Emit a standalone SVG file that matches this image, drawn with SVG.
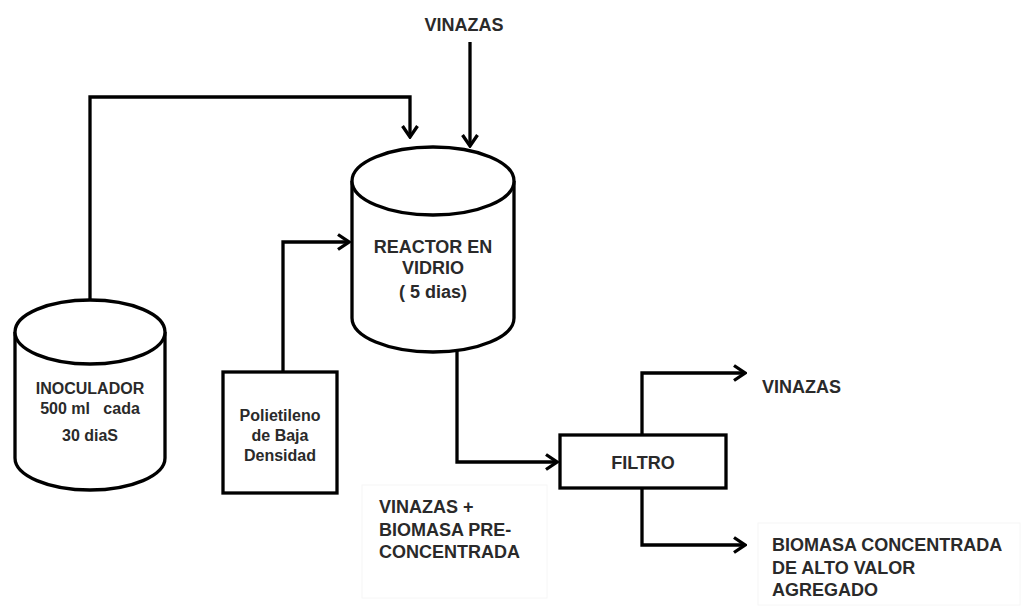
<svg xmlns="http://www.w3.org/2000/svg" width="1022" height="606" viewBox="0 0 1022 606">
<style>
.shape{fill:#fff;stroke:#000;stroke-width:3.3}
.conn{fill:none;stroke:#000;stroke-width:3.3;stroke-linejoin:miter}
.t18{font-family:"Liberation Sans",Arial,sans-serif;font-weight:bold;font-size:18px;fill:#2a2a2a}
.t16{font-family:"Liberation Sans",Arial,sans-serif;font-weight:bold;font-size:16px;fill:#2a2a2a}
.lbl{fill:#fff;stroke:#f6f6f6;stroke-width:1}
</style>
<defs>
<marker id="arr" viewBox="0 0 14 18" refX="12.5" refY="9" markerWidth="14" markerHeight="18" markerUnits="userSpaceOnUse" orient="auto">
<path d="M1.5,1.5 L12.5,9 L1.5,16.5" fill="none" stroke="#000" stroke-width="3.3"/>
</marker>
</defs>
<rect width="1022" height="606" fill="#fff"/>
<g id="connectors">
<path class="conn" d="M90,300 L90,97 L410,97 L410,137" marker-end="url(#arr)"/>
<path class="conn" d="M470,42 L470,146" marker-end="url(#arr)"/>
<path class="conn" d="M283,372 L283,242 L349,242" marker-end="url(#arr)"/>
<path class="conn" d="M457,350 L457,462 L557,462" marker-end="url(#arr)"/>
<path class="conn" d="M642,435 L642,373 L745,373" marker-end="url(#arr)"/>
<path class="conn" d="M642,488 L642,545 L745,545" marker-end="url(#arr)"/>
</g>
<g id="label-vinazas-top"><text class="t18" x="464" y="31" text-anchor="middle">VINAZAS</text></g>
<g id="inoculador">
<path class="shape" d="M15,332 L15,458 A75,32 0 0 0 165,458 L165,332"/>
<ellipse class="shape" cx="90" cy="332" rx="75" ry="32"/>
<text class="t16" x="90" y="394" text-anchor="middle">INOCULADOR</text>
<text class="t16" x="90" y="414" text-anchor="middle" xml:space="preserve">500 ml   cada</text>
<text class="t16" x="90" y="441" text-anchor="middle">30 diaS</text>
</g>
<g id="reactor">
<path class="shape" d="M352,181 L352,318 A81,34 0 0 0 514,318 L514,181"/>
<ellipse class="shape" cx="433" cy="181" rx="81" ry="34"/>
<text class="t18" x="433" y="253" text-anchor="middle">REACTOR EN</text>
<text class="t18" x="433" y="274" text-anchor="middle">VIDRIO</text>
<text class="t18" x="433" y="298" text-anchor="middle">( 5 dias)</text>
</g>
<g id="polietileno">
<rect class="shape" x="223" y="372" width="114" height="121"/>
<text class="t16" x="280" y="421" text-anchor="middle">Polietileno</text>
<text class="t16" x="280" y="441" text-anchor="middle">de Baja</text>
<text class="t16" x="280" y="461" text-anchor="middle">Densidad</text>
</g>
<g id="filtro">
<rect class="shape" x="560" y="435" width="166" height="53"/>
<text class="t18" x="643" y="469" text-anchor="middle">FILTRO</text>
</g>
<g id="label-vinazas-out"><text class="t18" x="762" y="393">VINAZAS</text></g>
<g id="label-vinazas-biomasa">
<rect class="lbl" x="362" y="485" width="185" height="113"/>
<text class="t18" x="379" y="513">VINAZAS +</text>
<text class="t18" x="379" y="536">BIOMASA PRE-</text>
<text class="t18" x="379" y="558">CONCENTRADA</text>
</g>
<g id="label-biomasa">
<rect class="lbl" x="758" y="523" width="262" height="82"/>
<text class="t18" x="772" y="551">BIOMASA CONCENTRADA</text>
<text class="t18" x="772" y="574">DE ALTO VALOR</text>
<text class="t18" x="772" y="596">AGREGADO</text>
</g>
</svg>
